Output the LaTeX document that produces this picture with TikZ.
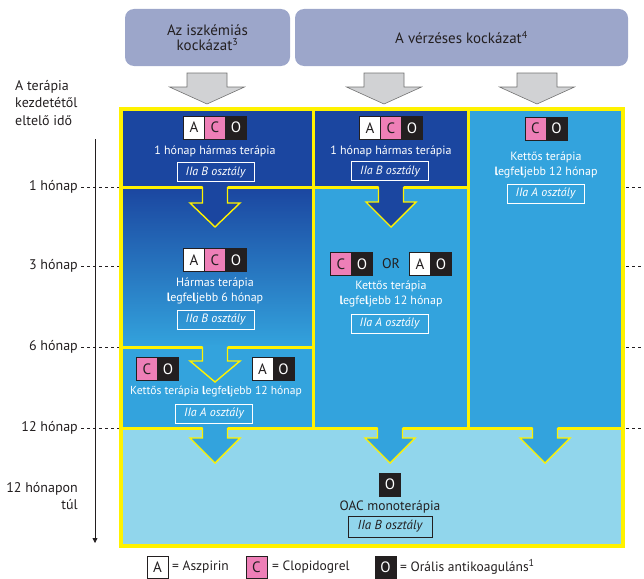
\documentclass[tikz,border=0pt]{standalone}
\usepackage{fontspec}
\setmainfont{PT Sans}
\usetikzlibrary{arrows.meta}

\definecolor{hdrfill}{HTML}{9CA6CA}
\definecolor{ink}{HTML}{231F20}
\definecolor{dkblue}{HTML}{1B46A0}
\definecolor{mdblue}{HTML}{33A3DD}
\definecolor{ltblue}{HTML}{91D6EC}
\definecolor{ylw}{HTML}{FFF200}
\definecolor{pinkC}{HTML}{EE7FB7}
\definecolor{grayarr}{HTML}{D1D2D4}

% font size helper
\newcommand{\fs}[1]{\fontsize{#1}{#1}\selectfont}
\newcommand{\lgfj}{{\bfseries l}egfe{\bfseries l}jebb}
\newcommand{\supnum}[1]{\textsuperscript{\fontsize{10}{10}\selectfont #1}}

% drug letter groups
\newcommand{\drugACO}[3]{%
  \node[drA] (#1a) at (#2-21,#3) {A};
  \node[drC] (#1c) at (#2,#3) {C};
  \node[drO] (#1o) at (#2+21,#3) {O};}
\newcommand{\drugCO}[3]{%
  \node[drC] (#1c) at (#2-10.5,#3) {C};
  \node[drO] (#1o) at (#2+10.5,#3) {O};}
\newcommand{\drugAO}[3]{%
  \node[drA] (#1a) at (#2-10.5,#3) {A};
  \node[drO] (#1o) at (#2+10.5,#3) {O};}

% yellow-outlined block arrow: centre x, top y, head start, tip, fill
\newcommand{\blockarrow}[5]{%
  \fill[#5] (#1-12.5,#2-2) -- (#1-12.5,#2+#3) -- (#1-25,#2+#3) -- (#1,#2+#4)
     -- (#1+25,#2+#3) -- (#1+12.5,#2+#3) -- (#1+12.5,#2-2) -- cycle;
  \draw[arrowline] (#1-12.5,#2) -- (#1-12.5,#2+#3) -- (#1-25,#2+#3) -- (#1,#2+#4)
     -- (#1+25,#2+#3) -- (#1+12.5,#2+#3) -- (#1+12.5,#2);}

% grey header arrow
\newcommand{\grayarrow}[1]{%
  \draw[fill=grayarr, draw=black!55, line width=0.6pt] (#1-20,73) -- (#1-20,87) -- (#1-37.5,87)
     -- (#1,104) -- (#1+37.5,87) -- (#1+20,87) -- (#1+20,73) -- cycle;}

\begin{document}
\begin{tikzpicture}[x=1pt,y=-1pt,
  hdrbox/.style={fill=hdrfill, rounded corners=9pt, text=ink, align=center,
    font=\fs{15}, inner sep=0pt},
  drbase/.style={minimum width=21pt, minimum height=23pt, inner sep=0pt, outer sep=0pt,
    font=\fs{15}, draw=ink, line width=0.5pt},
  drA/.style={drbase, fill=white, text=ink},
  drC/.style={drbase, fill=pinkC, text=ink},
  drO/.style={drbase, fill=ink, text=white},
  celltxt/.style={text=white, align=center, font={\fontsize{12}{15}\selectfont}, inner sep=0pt},
  cls/.style={draw=white, line width=0.8pt, text=white, font={\fs{12}\itshape},
    minimum width=77pt, minimum height=19pt, inner sep=0pt},
  divider/.style={draw=ylw, line width=3pt},
  arrowline/.style={draw=ylw, line width=1.4pt, line join=miter},
  tlabel/.style={text=ink, font=\fs{14}, anchor=east, inner sep=0pt, align=right},
  tick/.style={draw=ink, line width=0.8pt, dash pattern=on 3pt off 3pt},
  legtxt/.style={text=ink, font=\fs{13.5}, anchor=west, inner sep=0pt}]

\useasboundingbox (0,0) rectangle (644,578);

% ---- headers
\node[hdrbox, minimum width=165pt, minimum height=57pt] (hdrI) at (207.5,37.5)
  {\fontsize{15}{17.5}\selectfont Az iszkémiás\\kockázat\supnum{3}};
\node[hdrbox, minimum width=333pt, minimum height=57pt] (hdrV) at (461.5,37.5)
  {A vérzéses kockázat\supnum{4}};
\grayarrow{207}
\grayarrow{384}
\grayarrow{537}

% ---- cell backgrounds
\fill[dkblue] (121,108.5) rectangle (313,187);
\shade[top color=dkblue, bottom color=mdblue] (121,187) rectangle (313,347);
\fill[mdblue] (121,347) rectangle (313,428);
\fill[dkblue] (313,108.5) rectangle (468,187);
\fill[mdblue] (313,187) rectangle (468,428);
\fill[mdblue] (468,108.5) rectangle (622.5,428);
\fill[ltblue] (121,428) rectangle (622.5,546);

% ---- dividers
\draw[divider] (121,187) -- (313,187) -- (468,187);
\draw[divider] (121,347) -- (313,347);
\draw[divider] (121,428) -- (622.5,428);
\draw[divider] (313,108.5) -- (313,428);
\draw[divider] (468,108.5) -- (468,428);
\draw[draw=ylw, line width=4pt] (121,108.5) rectangle (622.5,546);

% ---- block arrows between phases
\blockarrow{215}{187}{16}{40}{dkblue}
\blockarrow{391}{187}{15}{40}{dkblue}
\blockarrow{215}{347}{14}{35}{mdblue}
\blockarrow{215}{428}{10}{35}{mdblue}
\blockarrow{390}{428}{10}{35}{mdblue}
\blockarrow{545}{428}{10}{35}{mdblue}

% ---- column 1
\drugACO{t1}{215}{127.5}
\node[celltxt] (t1txt) at (215,151) {1 hónap hármas terápia};
\node[cls] (t1cls) at (215.5,172) {IIa B osztály};

\drugACO{m1}{215}{260}
\node[celltxt] (m1txt) at (215,290.5) {Hármas terápia\\\lgfj{} 6 hónap};
\node[cls] (m1cls) at (215.5,319.5) {IIa B osztály};

\drugCO{b1l}{157.5}{369}
\drugAO{b1r}{273}{369}
\node[celltxt, font={\fontsize{11.6}{15}\selectfont}] (b1txt) at (216,392) {Kettős terápia \lgfj{} 12 hónap};
\node[cls] (b1cls) at (214,413.5) {IIa A osztály};

% ---- column 2
\drugACO{t2}{391}{128}
\node[celltxt] (t2txt) at (391,151) {1 hónap hármas terápia};
\node[cls] (t2cls) at (390,171) {IIa B osztály};

\drugCO{m2l}{351.5}{264}
\node[text=ink, font=\fs{14}, inner sep=0pt] (m2or) at (391,264) {OR};
\drugAO{m2r}{430.5}{264}
\node[celltxt] (m2txt) at (391,294) {Kettős terápia\\\lgfj{} 12 hónap};
\node[cls] (m2cls) at (389.5,323.5) {IIa A osztály};

% ---- column 3
\drugCO{t3}{546}{128.5}
\node[celltxt] (t3txt) at (546,164.5) {Kettős terápia\\\lgfj{} 12 hónap};
\node[cls] (t3cls) at (545.5,193.5) {IIa A osztály};

% ---- beyond 12 months
\node[drO] (mono) at (390,484.5) {O};
\node[text=ink, font=\fs{13.5}, inner sep=0pt] (monotxt) at (390,507) {OAC monoterápia};
\node[cls, draw=ink, text=ink, font={\fs{13}\itshape}, minimum width=84pt, minimum height=21pt]
  (monocls) at (390,526.5) {IIa B osztály};

% ---- time axis
\node[text=ink, font={\fontsize{14}{17.5}\selectfont}, align=left, anchor=west, inner sep=0pt]
  (axtitle) at (15,103) {A terápia\\kezdetétől\\eltelő idő};
\coordinate (axtop) at (95,139);
\coordinate (axbot) at (95,543);
\draw[ink, line width=0.8pt, -{Triangle[length=5pt,width=5pt]}] (axtop) -- (axbot);

\node[tlabel] (mo1) at (78,187) {1 hónap};
\node[tlabel] (mo3) at (78,266) {3 hónap};
\node[tlabel] (mo6) at (78,347) {6 hónap};
\node[tlabel] (mo12) at (78,428) {12 hónap};
\node[tlabel, font={\fontsize{14}{17}\selectfont}] (mo13) at (78,496.5) {12 hónapon\\túl};

\foreach \n/\y in {mo1/187, mo3/266, mo6/347, mo12/428} {
  \coordinate (fl\n) at (119,\y);
  \coordinate (fr\n) at (626,\y);
  \coordinate (ed\n) at (644,\y);
  \draw[tick] ([xshift=3pt]\n.east) -- (fl\n);
  \draw[tick] (fr\n) -- (ed\n);
}

% ---- legend
\node[drA, minimum height=22pt] (legA) at (157.5,567.5) {A};
\node[legtxt] (legAt) at (172,567) {= Aszpirin};
\node[drC, minimum height=22pt] (legC) at (256.5,567.5) {C};
\node[legtxt] (legCt) at (272,567) {= Clopidogrel};
\node[drO, minimum height=22pt] (legO) at (385.5,567.5) {O};
\node[legtxt] (legOt) at (400,567) {= Orális antikoaguláns\supnum{1}};
\end{tikzpicture}
\end{document}
